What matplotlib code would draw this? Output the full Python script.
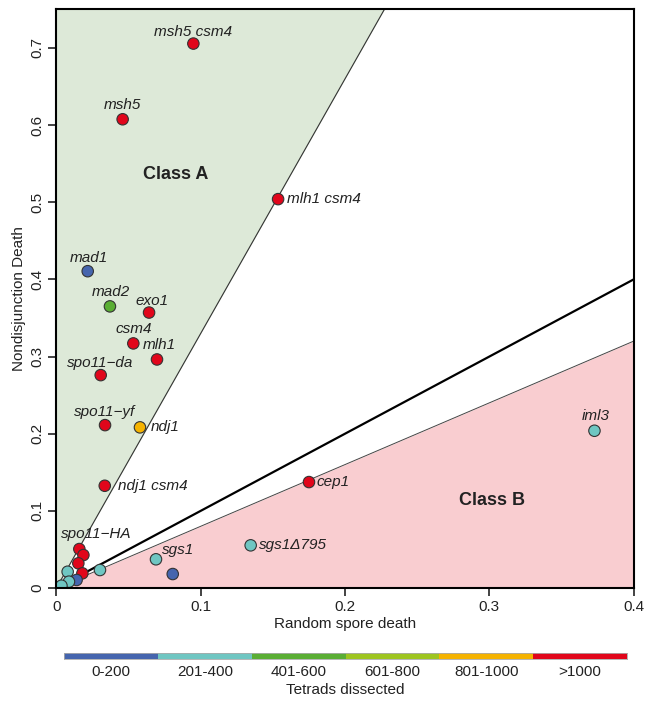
import matplotlib
matplotlib.use("Agg")
import matplotlib.pyplot as plt
import numpy as np

plt.rcParams['font.family'] = ['Liberation Sans', 'DejaVu Sans']

# tetrad-count classes used for point colours and the key
tetrad_bins = ['0-200', '201-400', '401-600', '601-800', '801-1000', '>1000']
bin_colors = ['#4565ae', '#6fc6c2', '#5aae34', '#9ec51f', '#f5b300', '#e1061b']

genotypes = ['msh5 csm4', 'msh5', 'mlh1 csm4', 'mad1', 'mad2', 'exo1', 'csm4',
             'mlh1', 'spo11−da', 'spo11−yf', 'ndj1', 'ndj1 csm4', 'cep1', 'iml3',
             'sgs1Δ795', 'sgs1', '', 'spo11−HA', '', '', '', '', '', '', '', '']
random_spore_death = [0.0949, 0.0459, 0.1536, 0.0217, 0.0371, 0.0642, 0.0533,
                      0.0697, 0.0307, 0.0337, 0.0579, 0.0335, 0.1750, 0.3728,
                      0.1346, 0.0690, 0.0806, 0.0159, 0.0187, 0.0152, 0.0180,
                      0.0078, 0.0302, 0.0140, 0.0087, 0.0035]
nondisjunction_death = [0.7056, 0.6075, 0.5040, 0.4106, 0.3650, 0.3570, 0.3170,
                        0.2962, 0.2759, 0.2111, 0.2082, 0.1325, 0.1373, 0.2038,
                        0.0553, 0.0372, 0.0181, 0.0505, 0.0427, 0.0320, 0.0190,
                        0.0211, 0.0233, 0.0104, 0.0082, 0.0030]
tetrad_class = [5, 5, 5, 0, 2, 5, 5, 5, 5, 5, 4, 5, 5, 1, 1, 1, 0, 5, 5, 5, 5,
                1, 1, 0, 1, 1]

# boundaries of the two classes (NDD vs RSD)
class_a_slope = 3.3
class_b_slope = 0.8

xmax, ymax = 0.4, 0.75

# where each label sits relative to its point, in pixels (dx, dy, ha)
label_offsets = {
    'msh5 csm4': (0, 12, 'center'), 'msh5': (0, 14, 'center'),
    'mad1': (1, 13, 'center'), 'mad2': (1, 14, 'center'),
    'exo1': (3, 12, 'center'), 'csm4': (0, 14, 'center'),
    'mlh1': (2, 14, 'center'), 'spo11−da': (-1, 12, 'center'),
    'spo11−yf': (0, 13, 'center'), 'iml3': (1, 15, 'center'),
    'mlh1 csm4': (9, 0, 'left'), 'ndj1': (11, 0, 'left'),
    'ndj1 csm4': (13, 0, 'left'), 'cep1': (8, 0, 'left'),
    'sgs1Δ795': (8, 0, 'left'), 'sgs1': (22, 9, 'center'),
    'spo11−HA': (17, 15, 'center'),
}

fig = plt.figure(figsize=(6.46, 7.01), dpi=100)
ax = fig.add_axes([0.0873, 0.1612, 0.8937, 0.8255])

# shaded class regions
xa = ymax / class_a_slope
ax.fill_between([0, xa], [0, ymax], [ymax, ymax], color='#dde9d8', lw=0, zorder=0)
ax.fill_between([0, xmax], [0, 0], [0, class_b_slope * xmax], color='#f9cdd0',
                lw=0, zorder=0)
ax.plot([0, xa], [0, ymax], color='#333333', lw=0.8, zorder=1)
ax.plot([0, xmax], [0, class_b_slope * xmax], color='#444444', lw=0.7, zorder=1)
ax.plot([0, xmax], [0, xmax], color='black', lw=1.6, zorder=1)

colors = [bin_colors[c] for c in tetrad_class]
ax.scatter(random_spore_death, nondisjunction_death, s=68, c=colors,
           edgecolors='#333333', linewidths=0.8, zorder=3)

for name, x, y in zip(genotypes, random_spore_death, nondisjunction_death):
    if not name:
        continue
    dx, dy, ha = label_offsets[name]
    ax.annotate(name, (x, y), xytext=(dx, dy), textcoords='offset pixels',
                ha=ha, va='center', fontsize=11, style='italic', color='#222222',
                zorder=4)

ax.text(0.0825, 0.536, 'Class A', fontsize=13, fontweight='bold', color='#222222',
        ha='center', va='center')
ax.text(0.302, 0.113, 'Class B', fontsize=13, fontweight='bold', color='#222222',
        ha='center', va='center')

ax.set_xlim(0, xmax)
ax.set_ylim(0, ymax)
ax.set_xticks([0, 0.1, 0.2, 0.3, 0.4])
ax.set_xticklabels(['0', '0.1', '0.2', '0.3', '0.4'])
ax.set_yticks([0, 0.1, 0.2, 0.3, 0.4, 0.5, 0.6, 0.7])
ax.set_yticklabels(['0', '0.1', '0.2', '0.3', '0.4', '0.5', '0.6', '0.7'],
                   rotation=90, va='center')
ax.tick_params(length=6, width=1.2, labelsize=11, colors='#222222', pad=3)
for sp in ax.spines.values():
    sp.set_linewidth(1.5)
    sp.set_zorder(5)
ax.set_xlabel('Random spore death', fontsize=11, color='#222222', labelpad=2)
ax.set_ylabel('Nondisjunction Death', fontsize=11, color='#222222', labelpad=3)

# colour key for tetrads dissected
cax = fig.add_axes([0.0991, 0.0599, 0.8715, 0.0086])
cax.bar(range(len(tetrad_bins)), [1] * len(tetrad_bins), width=1.0,
        color=bin_colors, lw=0)
cax.set_xlim(-0.5, len(tetrad_bins) - 0.5)
cax.set_ylim(0, 1)
cax.set_yticks([])
cax.set_xticks(range(len(tetrad_bins)))
cax.set_xticklabels(tetrad_bins)
cax.tick_params(length=0, labelsize=11, colors='#222222', pad=4)
for sp in cax.spines.values():
    sp.set_color('#aaaaaa')
    sp.set_linewidth(0.6)
cax.set_xlabel('Tetrads dissected', fontsize=11, color='#222222', labelpad=3)

fig.savefig('out.png', dpi=100)
